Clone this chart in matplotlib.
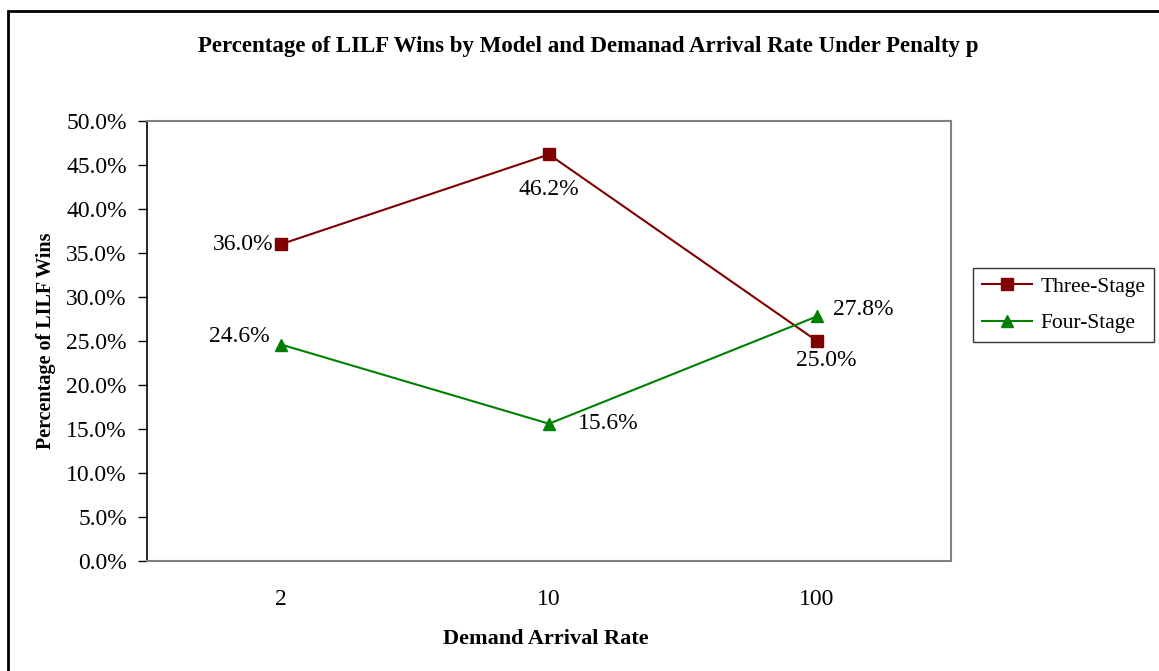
import matplotlib
matplotlib.use('Agg')
import matplotlib.pyplot as plt
from matplotlib.patches import Rectangle
from matplotlib.ticker import FuncFormatter

plt.rcParams['font.family'] = 'Liberation Serif'

rates = ['2', '10', '100']
three_stage = [36.0, 46.2, 25.0]
four_stage = [24.6, 15.6, 27.8]

# label offsets in pixels (dx, dy, ha)
three_offs = [(-8, 0, 'right'), (0, -35, 'center'), (9, -19, 'center')]
four_offs = [(-11, 8, 'right'), (29, 0, 'left'), (16, 7, 'left')]

W, H = 1159, 671
fig = plt.figure(figsize=(W / 100, H / 100), dpi=100)
ax = fig.add_axes([147 / W, 1 - 561 / H, 804 / W, 440 / H])

x = range(len(rates))
ax.plot(x, three_stage, color='#800000', marker='s', markersize=8, lw=1.5, label='Three-Stage')
ax.plot(x, four_stage, color='#008000', marker='^', markersize=9, lw=1.5, label='Four-Stage')

for i, v in enumerate(three_stage):
    dx, dy, ha = three_offs[i]
    ax.annotate('%.1f%%' % v, (i, v), xytext=(dx, dy), textcoords='offset pixels',
                ha=ha, va='center', fontsize=17)
for i, v in enumerate(four_stage):
    dx, dy, ha = four_offs[i]
    ax.annotate('%.1f%%' % v, (i, v), xytext=(dx, dy), textcoords='offset pixels',
                ha=ha, va='center', fontsize=17)

ax.set_xlim(-0.5, 2.5)
ax.set_ylim(0, 50)
ax.set_xticks(list(x))
ax.set_xticklabels(rates)
ax.set_yticks(range(0, 51, 5))
ax.yaxis.set_major_formatter(FuncFormatter(lambda v, p: '%.1f%%' % v))
ax.tick_params(axis='y', direction='out', length=6.5, width=1, labelsize=17, pad=8)
ax.tick_params(axis='x', length=0, labelsize=17, pad=20)

for s in ['top', 'right', 'bottom']:
    ax.spines[s].set_color('#808080')
    ax.spines[s].set_linewidth(1.5)
ax.spines['left'].set_color('black')
ax.spines['left'].set_linewidth(1.2)

fig.text(546 / W, 1 - 644 / H, 'Demand Arrival Rate', ha='center', va='baseline',
         fontsize=16, fontweight='bold')
fig.text(46 / W, 1 - 341 / H, 'Percentage of LILF Wins', ha='center', va='center',
         rotation=90, fontsize=14.5, fontweight='bold')
fig.text(588 / W, 1 - 52 / H,
         'Percentage of LILF Wins by Model and Demanad Arrival Rate Under Penalty p',
         ha='center', va='baseline', fontsize=16.5, fontweight='bold')

leg = ax.legend(loc='center left', bbox_to_anchor=(973 / W, 1 - 305 / H),
                bbox_transform=fig.transFigure, fontsize=15.5, frameon=True,
                fancybox=False, edgecolor='black', handlelength=2.36,
                handletextpad=0.36, borderpad=0.4, labelspacing=0.75,
                borderaxespad=0)
leg.get_frame().set_linewidth(1)

fig.patches.append(Rectangle((8 / W, -0.02), 1.0, 1 - 11 / H + 0.02,
                             transform=fig.transFigure, fill=False,
                             edgecolor='black', lw=2))

fig.savefig('out.png', dpi=100)
